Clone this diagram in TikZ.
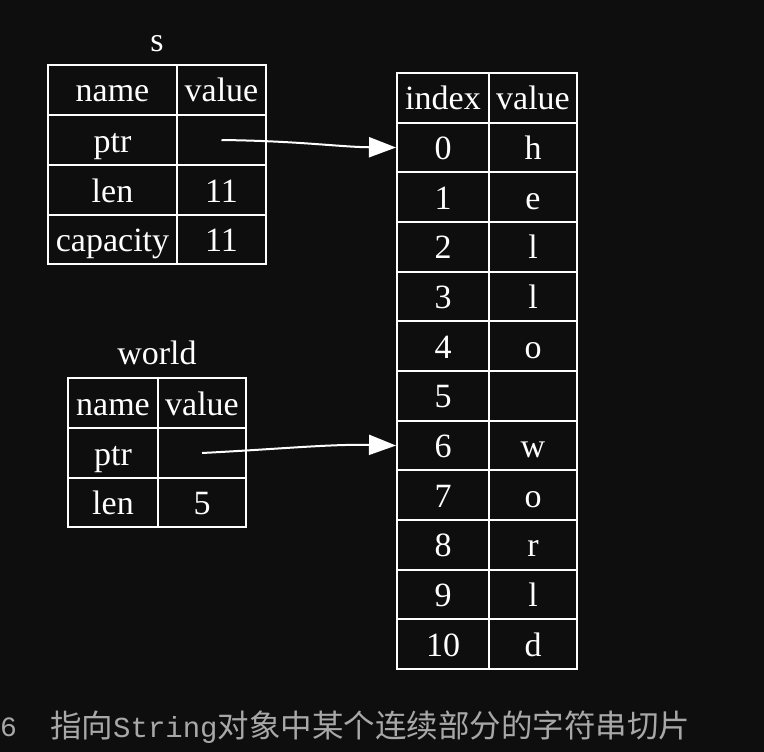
\documentclass[tikz,border=0pt]{standalone}
\usepackage{fontspec}
\setmainfont{Liberation Serif}
\newfontfamily\cjk{Noto Sans CJK SC}
\newfontfamily\monof{Liberation Mono}
\usetikzlibrary{arrows.meta}
\definecolor{bg}{HTML}{0E0E0E}
\definecolor{capgrey}{HTML}{A8A8A8}
\begin{document}
\begin{tikzpicture}[x=1pt,y=-1pt,
  cell/.style={draw=white, line width=2pt, inner sep=0pt, text=white,
    font=\fontsize{34}{40}\selectfont, anchor=center, text height=26pt, text depth=2pt},
  ttl/.style={text=white, font=\fontsize{34}{40}\selectfont, inner sep=0pt, text height=26pt, text depth=2pt},
  ptrarrow/.style={draw=white, line width=2pt, -{Triangle[length=27pt,width=20pt]}}]
\fill[bg] (0,0) rectangle (764,752);
\useasboundingbox (0,0) rectangle (764,752);
% table s
\node[ttl] (s-title) at (157,40) {s};
\node[cell, minimum width=129pt, minimum height=50pt] (s-h1) at (112.5,90) {name};
\node[cell, minimum width=89pt, minimum height=50pt] (s-h2) at (221.5,90) {value};
\node[cell, minimum width=129pt, minimum height=50pt] (s-r1) at (112.5,140) {ptr};
\node[cell, minimum width=89pt, minimum height=50pt] (s-ptr) at (221.5,140) {};
\node[cell, minimum width=129pt, minimum height=50pt] (s-r2) at (112.5,190) {len};
\node[cell, minimum width=89pt, minimum height=50pt] (s-len) at (221.5,190) {11};
\node[cell, minimum width=129pt, minimum height=49pt] (s-r3) at (112.5,239.5) {capacity};
\node[cell, minimum width=89pt, minimum height=49pt] (s-cap) at (221.5,239.5) {11};
% table world
\node[ttl] (w-title) at (157,352) {world};
\node[cell, minimum width=90pt, minimum height=50pt] (w-h1) at (113,403) {name};
\node[cell, minimum width=88pt, minimum height=50pt] (w-h2) at (202,403) {value};
\node[cell, minimum width=90pt, minimum height=50pt] (w-r1) at (113,453) {ptr};
\node[cell, minimum width=88pt, minimum height=50pt] (w-ptr) at (202,453) {};
\node[cell, minimum width=90pt, minimum height=49pt] (w-r2) at (113,502.5) {len};
\node[cell, minimum width=88pt, minimum height=49pt] (w-len) at (202,502.5) {5};
% index table
\node[cell, minimum width=92pt, minimum height=49.67pt] (i-h1) at (443,97.8) {index};
\node[cell, minimum width=88pt, minimum height=49.67pt] (i-h2) at (533,97.8) {value};
\foreach \i/\c in {0/h,1/e,2/l,3/l,4/o,5/{},6/w,7/o,8/r,9/l,10/d}{
  \node[cell, minimum width=92pt, minimum height=49.67pt] (idx\i) at (443,{73+49.67*(\i+1.5)}) {\i};
  \node[cell, minimum width=88pt, minimum height=49.67pt] (val\i) at (533,{73+49.67*(\i+1.5)}) {\c};
}
% arrows
\draw[ptrarrow] (s-ptr.center) .. controls (300,141) and (340,147) .. (idx0.west);
\draw[ptrarrow] (w-ptr.center) .. controls (280,449) and (330,444) .. (idx6.west);
% caption
\node[anchor=west, inner sep=0pt, text=capgrey, font=\monof\fontsize{28}{30}\selectfont] (cap-num) at (0,727) {6};
\node[anchor=west, inner sep=0pt, text=capgrey, font=\cjk\fontsize{31.5}{34}\selectfont] (cap) at (50,727) {指向{\monof\fontsize{29}{30}\selectfont String}对象中某个连续部分的字符串切片};
\end{tikzpicture}
\end{document}
